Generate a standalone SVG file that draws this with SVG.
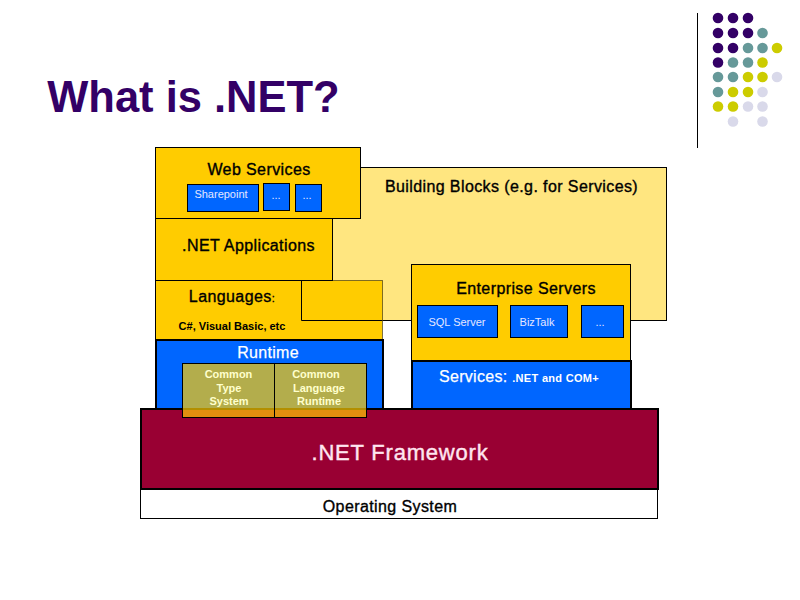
<svg xmlns="http://www.w3.org/2000/svg" width="800" height="600" viewBox="0 0 800 600">
<style>
text{font-family:"Liberation Sans",Arial,sans-serif;text-anchor:middle}
.y{fill:#ffcc00;stroke:#000;stroke-width:1}
.b{fill:#0066ff;stroke:#000;stroke-width:1}
.bb{fill:#0066ff;stroke:#000;stroke-width:2}
.k{fill:#000;font-size:16px;stroke:#000;stroke-width:.35;letter-spacing:.4px}
.w{fill:#fff;stroke:#fff;stroke-width:.25;font-size:16px;letter-spacing:.3px}
.s{fill:#e6e6ff;font-size:11px}
.t{fill:#ffffcc;font-size:11px;font-weight:bold}
.p{fill:#330066}.g{fill:#669999}.l{fill:#cccc00}.v{fill:#d9d9ea}
</style>
<rect width="800" height="600" fill="#fff"/>
<text x="193.500" y="112" font-size="43.500" font-weight="bold" fill="#330066">What is .NET?</text>
<path d="M697.500 13V148" stroke="#000" stroke-width="1" fill="none"/>
<g id="dots">
<g class="p"><circle cx="718" cy="18" r="5.300"/><circle cx="733" cy="18" r="5.300"/><circle cx="748" cy="18" r="5.300"/><circle cx="718" cy="33" r="5.300"/><circle cx="733" cy="33" r="5.300"/><circle cx="748" cy="33" r="5.300"/><circle cx="718" cy="48" r="5.300"/><circle cx="733" cy="48" r="5.300"/><circle cx="718" cy="62.500" r="5.300"/></g>
<g class="g"><circle cx="762.500" cy="33" r="5.300"/><circle cx="748" cy="48" r="5.300"/><circle cx="762.500" cy="48" r="5.300"/><circle cx="733" cy="62.500" r="5.300"/><circle cx="748" cy="62.500" r="5.300"/><circle cx="718" cy="77" r="5.300"/><circle cx="733" cy="77" r="5.300"/><circle cx="718" cy="92" r="5.300"/></g>
<g class="l"><circle cx="777" cy="48" r="5.300"/><circle cx="762.500" cy="62.500" r="5.300"/><circle cx="748" cy="77" r="5.300"/><circle cx="762.500" cy="77" r="5.300"/><circle cx="733" cy="92" r="5.300"/><circle cx="748" cy="92" r="5.300"/><circle cx="718" cy="106.500" r="5.300"/><circle cx="733" cy="106.500" r="5.300"/></g>
<g class="v"><circle cx="777" cy="77" r="5.300"/><circle cx="762.500" cy="92" r="5.300"/><circle cx="748" cy="106.500" r="5.300"/><circle cx="762.500" cy="106.500" r="5.300"/><circle cx="733" cy="121.500" r="5.300"/><circle cx="762.500" cy="121.500" r="5.300"/></g>
</g>
<g id="building-blocks"><rect x="301.500" y="167.500" width="365" height="153" fill="#ffe680" stroke="#000"/><text x="511.500" y="191.500" class="k">Building Blocks (e.g. for Services)</text></g>
<g id="languages"><rect x="155.500" y="280.500" width="227" height="59" fill="#ffcc00" stroke="#000" stroke-opacity=".5"/><path d="M155.500 280.500V339.500" stroke="#000" fill="none"/><path d="M301.500 280.500V320.500H382" stroke="#000" fill="none"/><text x="232" y="302" class="k">Languages<tspan font-size="11">:</tspan></text><text x="232" y="330" font-size="11" font-weight="bold" fill="#000">C#, Visual Basic, etc</text></g>
<g id="web-services"><rect x="155.500" y="147.500" width="205" height="71" class="y"/><text x="259" y="175" class="k">Web Services</text>
<rect x="187.500" y="184.500" width="71" height="27" class="b"/><text x="221" y="198" class="s">Sharepoint</text>
<rect x="263.500" y="183.500" width="26" height="27" class="b"/><text x="276" y="199" class="s">...</text>
<rect x="295.500" y="184.500" width="26" height="27" class="b"/><text x="307" y="199" class="s">...</text></g>
<g id="net-applications"><rect x="155.500" y="218.500" width="177" height="62" class="y"/><text x="248.500" y="251" class="k">.NET Applications</text></g>
<g id="runtime"><rect x="156" y="340" width="227" height="70" class="bb"/><text x="268" y="358" class="w">Runtime</text></g>
<g id="enterprise-servers"><rect x="411.500" y="264.500" width="219" height="96" class="y"/><text x="526" y="294" class="k">Enterprise Servers</text>
<rect x="417.500" y="305.500" width="80" height="32" class="b"/><text x="457" y="326" class="s">SQL Server</text>
<rect x="510.500" y="305.500" width="57" height="32" class="b"/><text x="537" y="326" class="s">BizTalk</text>
<rect x="581.500" y="305.500" width="42" height="32" class="b"/><text x="600" y="326" class="s">...</text></g>
<g id="services"><rect x="412" y="361" width="219" height="49" class="bb"/><text x="519" y="382" class="w">Services: <tspan font-size="11" font-weight="bold" style="stroke:none">.NET and COM+</tspan></text></g>
<g id="net-framework"><rect x="141" y="409" width="517" height="80" fill="#990033" stroke="#000" stroke-width="2"/><text x="400" y="460" font-size="22" fill="#ffe6f0" stroke="#ffe6f0" stroke-width=".4" letter-spacing=".8">.NET Framework</text></g>
<g id="operating-system"><rect x="140.500" y="489.500" width="517" height="29" fill="#fff" stroke="#000"/><text x="390" y="512" class="k">Operating System</text></g>
<g id="common-type-system"><rect x="182.500" y="363.500" width="92" height="54" fill="#ffcc00" fill-opacity=".7" stroke="#000"/><text class="t" x="228.500" y="378">Common</text><text class="t" x="229" y="392">Type</text><text class="t" x="229" y="405">System</text></g>
<g id="common-language-runtime"><rect x="274.500" y="363.500" width="92" height="54" fill="#ffcc00" fill-opacity=".7" stroke="#000"/><text class="t" x="316" y="378">Common</text><text class="t" x="319" y="392">Language</text><text class="t" x="319" y="405">Runtime</text></g>
</svg>
